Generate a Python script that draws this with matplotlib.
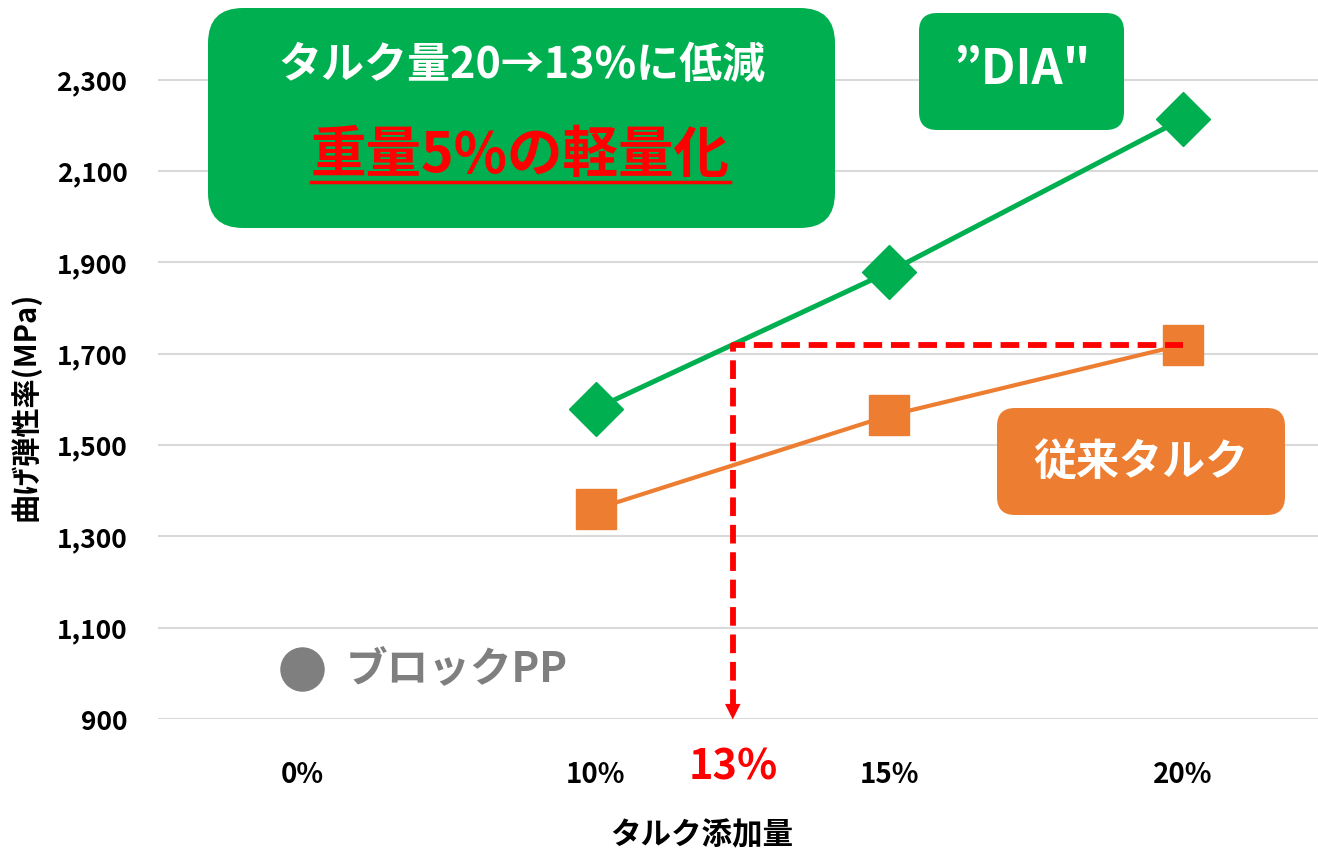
import matplotlib
matplotlib.use('Agg')
import matplotlib.pyplot as plt
from matplotlib.patches import FancyBboxPatch
from matplotlib.transforms import Affine2D, IdentityTransform

plt.rcParams['font.family'] = ['Noto Sans CJK JP', 'DejaVu Sans']
plt.rcParams['font.weight'] = 'bold'

# データ
categories = ['0%', '10%', '15%', '20%']
dia_x = [1, 2, 3]
dia_values = [1580, 1880, 2215]
conv_x = [1, 2, 3]
conv_values = [1360, 1565, 1720]
block_x = [0]
block_values = [1010]
y_ticks = [900, 1100, 1300, 1500, 1700, 1900, 2100, 2300]
y_tick_labels = ['900', '1,100', '1,300', '1,500', '1,700', '1,900', '2,100', '2,300']

GREEN = '#00B050'
ORANGE = '#ED7D31'
GRAY = '#7F7F7F'
RED = '#FF0000'

W, H = 1318, 855
fig = plt.figure(figsize=(W / 100, H / 100), dpi=100)
ax = fig.add_axes([158 / W, (H - 719) / H, (W - 158) / W, 719 / H])

# ピクセル座標(左上原点) -> 図
px = Affine2D().scale(1 / W, -1 / H).translate(0, 1) + fig.transFigure

ax.set_xlim(-0.491, 3.46)
ax.set_ylim(900, 2475)
ax.set_yticks(y_ticks)
ax.set_yticklabels(y_tick_labels)
ax.set_xticks(range(len(categories)))
ax.set_xticklabels(categories)
ax.tick_params(axis='y', length=0, pad=22, labelsize=19)
ax.tick_params(axis='x', length=0, pad=30, labelsize=20)
ax.grid(axis='y', color='#D9D9D9', linewidth=1.5)
ax.set_axisbelow(True)
for s in ax.spines.values():
    s.set_visible(False)

# 系列
ax.plot(dia_x, dia_values, color=GREEN, lw=3.6, marker='D', markersize=27, zorder=3)
ax.plot(conv_x, conv_values, color=ORANGE, lw=3.0, marker='s', markersize=29, zorder=3)
ax.plot(block_x, block_values, color=GRAY, lw=0, marker='o', markersize=31, zorder=3)
ax.annotate('ブロックPP', (block_x[0], block_values[0]), xytext=(31, 0),
            textcoords='offset points', va='center', ha='left',
            color=GRAY, fontsize=30, fontweight='bold')

# 13%の位置（DIAが従来20%の値に達する点）
x13 = dia_x[0] + (conv_values[2] - dia_values[0]) / (dia_values[1] - dia_values[0])
ax.plot([x13, x13, conv_x[2]], [925, conv_values[2], conv_values[2]],
        color=RED, lw=4.2, dashes=(3.2, 1.5), zorder=4, clip_on=False)
ax.annotate('', xy=(x13, 893), xytext=(x13, 935),
            arrowprops=dict(arrowstyle='-|>,head_width=0.55,head_length=1.1',
                            color=RED, lw=0.1), annotation_clip=False, zorder=4)
ax.annotate('13%', (x13, 900), xytext=(0, -35), textcoords='offset points',
            ha='center', va='center', color=RED, fontsize=30, fontweight='bold',
            annotation_clip=False)

# 軸ラベル
ax.set_xlabel('タルク添加量', fontsize=22, fontweight='bold')
ax.xaxis.set_label_coords((702 - 158) / (W - 158), (719 - 835) / 719)
ax.xaxis.label.set_va('center')
ax.set_ylabel('曲げ弾性率(MPa)', fontsize=21, fontweight='bold')
ax.yaxis.set_label_coords((25 - 158) / (W - 158), (719 - 406) / 719)
ax.yaxis.label.set_va('center')

# 吹き出し
boxes = [
    ((208, 8), 627, 220, 35, GREEN),
    ((919, 13), 205, 117, 18, GREEN),
    ((997, 408), 288, 107, 18, ORANGE),
]
for (bx, by), bw, bh, r, c in boxes:
    fig.add_artist(FancyBboxPatch((bx, by), bw, bh,
                                  boxstyle=f'round,pad=0,rounding_size={r}',
                                  transform=px, facecolor=c, edgecolor='none', zorder=5))

fig.text(522, 65, 'タルク量20→13%に低減', transform=px, ha='center', va='center',
         color='white', fontsize=31, fontweight='bold', zorder=6)
t2 = fig.text(520, 156, '重量5%の軽量化', transform=px, ha='center', va='center',
              color=RED, fontsize=40, fontweight='bold', zorder=6)
fig.text(1022, 70, '”DIA"', transform=px, ha='center', va='center',
         color='white', fontsize=35, fontweight='bold', zorder=6)
fig.text(1141, 462, '従来タルク', transform=px, ha='center', va='center',
         color='white', fontsize=31, fontweight='bold', zorder=6)

# 下線
fig.canvas.draw()
bb = t2.get_window_extent()
fig.add_artist(plt.Line2D([bb.x0, bb.x1], [bb.y0 + 2, bb.y0 + 2], color=RED, lw=2.5,
                          transform=IdentityTransform(), zorder=6))

fig.savefig('out.png', dpi=100)
